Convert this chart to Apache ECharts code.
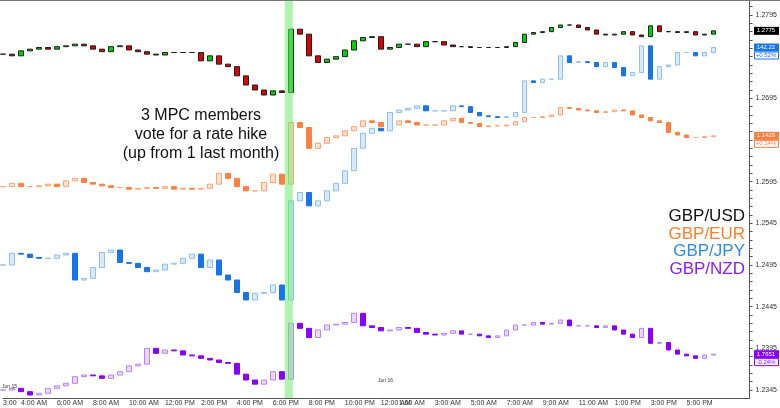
<!DOCTYPE html>
<html><head><meta charset="utf-8">
<script src="https://cdn.jsdelivr.net/npm/echarts@6/dist/echarts.min.js"></script>
<style>html,body{margin:0;padding:0;background:#fff}#c{width:780px;height:408px}</style>
</head><body><div id="c"></div>
<script>
// closes of 30-minute bars, plotted on the common price scale
const gbpusd = [1.2748,1.2746,1.2752,1.2754,1.2756,1.2754,1.2757,1.2758,1.2760,1.2758,
1.2754,1.2751,1.2757,1.2758,1.2753,1.2751,1.2748,1.2747,1.2750,1.2750,
1.2750,1.2750,1.2740,1.2746,1.2736,1.2733,1.2722,1.2711,1.2705,1.2699,
1.2704,1.2702,1.2778,1.2772,1.2746,1.2738,1.2742,1.2745,1.2753,1.2764,
1.2768,1.2769,1.2754,1.2756,1.2760,1.2760,1.2757,1.2763,1.2763,1.2759,
1.2757,1.2757,1.2756,1.2756,1.2756,1.2756,1.2757,1.2762,1.2772,1.2774,
1.2775,1.2780,1.2783,1.2783,1.2780,1.2777,1.2772,1.2771,1.2772,1.2775,
1.2771,1.2769,1.2782,1.2775,1.2775,1.2774,1.2775,1.2771,1.2772,1.2776];
const gbpeur = [1.2589,1.2593,1.2589,1.2589,1.2590,1.2592,1.2589,1.2596,1.2599,1.2594,
1.2592,1.2590,1.2588,1.2588,1.2586,1.2587,1.2588,1.2587,1.2589,1.2586,
1.2587,1.2586,1.2587,1.2592,1.2605,1.2599,1.2589,1.2584,1.2584,1.2594,
1.2604,1.2592,1.2666,1.2660,1.2635,1.2641,1.2648,1.2650,1.2656,1.2661,
1.2668,1.2666,1.2661,1.2663,1.2668,1.2666,1.2663,1.2663,1.2663,1.2668,
1.2671,1.2666,1.2665,1.2661,1.2662,1.2662,1.2663,1.2667,1.2672,1.2672,
1.2673,1.2675,1.2684,1.2683,1.2681,1.2680,1.2678,1.2679,1.2681,1.2680,
1.2675,1.2672,1.2668,1.2666,1.2654,1.2651,1.2648,1.2648,1.2649,1.2650];
const gbpjpy = [1.2495,1.2509,1.2508,1.2504,1.2503,1.2503,1.2507,1.2509,1.2477,1.2479,
1.2492,1.2510,1.2513,1.2498,1.2497,1.2492,1.2487,1.2489,1.2496,1.2497,
1.2503,1.2508,1.2492,1.2501,1.2483,1.2477,1.2462,1.2453,1.2461,1.2462,
1.2471,1.2453,1.2572,1.2582,1.2566,1.2572,1.2584,1.2593,1.2608,1.2635,
1.2653,1.2659,1.2656,1.2678,1.2681,1.2683,1.2686,1.2680,1.2680,1.2680,
1.2686,1.2685,1.2678,1.2674,1.2673,1.2672,1.2673,1.2678,1.2716,1.2714,
1.2718,1.2718,1.2746,1.2738,1.2739,1.2738,1.2733,1.2738,1.2732,1.2722,
1.2726,1.2758,1.2718,1.2733,1.2735,1.2750,1.2750,1.2746,1.2750,1.2756];
const gbpnzd = [1.2345,1.2347,1.2343,1.2339,1.2341,1.2347,1.2350,1.2353,1.2361,1.2363,
1.2362,1.2359,1.2363,1.2367,1.2374,1.2376,1.2395,1.2389,1.2393,1.2392,
1.2387,1.2386,1.2383,1.2381,1.2378,1.2377,1.2364,1.2357,1.2352,1.2357,
1.2367,1.2358,1.2425,1.2419,1.2408,1.2417,1.2423,1.2424,1.2426,1.2437,
1.2422,1.2420,1.2416,1.2417,1.2420,1.2419,1.2414,1.2412,1.2411,1.2413,
1.2416,1.2412,1.2412,1.2410,1.2408,1.2410,1.2417,1.2423,1.2423,1.2426,
1.2424,1.2425,1.2429,1.2422,1.2422,1.2422,1.2420,1.2422,1.2417,1.2412,
1.2408,1.2419,1.2401,1.2402,1.2393,1.2388,1.2386,1.2383,1.2387,1.2388];
const yTickLabels = [1.2345,1.2395,1.2445,1.2495,1.2545,1.2595,1.2645,1.2695,1.2745,1.2795];
const xTickLabels = {0:'3:00',2:'4:00 AM',6:'6:00 AM',10:'8:00 AM',14:'10:00 AM',18:'12:00 PM',22:'2:00 PM',26:'4:00 PM',30:'6:00 PM',34:'8:00 PM',38:'10:00 PM',42:'12:00 AM',44:'1:00 AM',48:'3:00 AM',52:'5:00 AM',56:'7:00 AM',60:'9:00 AM',64:'11:00 AM',68:'1:00 PM',72:'3:00 PM',76:'5:00 PM'};
const seriesNames = ['GBP/USD','GBP/EUR','GBP/JPY','GBP/NZD'];
const lastPrices = ['1.2775','1.1429','142.22','1.7651'];
const changes = [null,'+0.14%','+0.52%','-0.24%'];
const eventBar = 32;

const N = 84;
const cats = Array.from({length:N},(_,i)=>String(i));
function ohlc(c){return c.map((v,i)=>{const o=i?c[i-1]:v;return [o,v,Math.min(o,v),Math.max(o,v)];});}
const styles = [
 {color:'#00d400',color0:'#e00000',borderColor:'#1f1f1f',borderColor0:'#1f1f1f'},
 {color:'#ffe2d0',color0:'#ff7f3f',borderColor:'#ffa070',borderColor0:'#ff7f3f'},
 {color:'#d9eafc',color0:'#1874e8',borderColor:'#8cc0f5',borderColor0:'#1874e8'},
 {color:'#ead6ff',color0:'#8a00ff',borderColor:'#b884f7',borderColor0:'#8a00ff'}];
const tagColors=['#000000','#ff7f3f','#1874e8','#8a00ff'];
const legendColors=['#111111','#ff7f27','#2b8cf0','#8a1cff'];
const datas=[gbpusd,gbpeur,gbpjpy,gbpnzd];
const chart = echarts.init(document.getElementById('c'));
const ticks=[];for(let k=12335;k<=12811;k++){if(k%10===5)ticks.push(k/10000);}
chart.setOption({
 animation:false,
 grid:{left:1,right:27,top:1,bottom:10},
 xAxis:{type:'category',data:cats,boundaryGap:false,
  axisLine:{lineStyle:{color:'#555'}},axisTick:{show:false},
  axisLabel:{interval:0,fontSize:7,color:'#333',fontFamily:'Liberation Sans',align:'left',margin:2,
   formatter:(v,i)=>xTickLabels[i]||''},splitLine:{show:false}},
 yAxis:{type:'value',position:'right',min:1.23354,max:1.28118,
  axisLine:{show:true,lineStyle:{color:'#555'}},
  axisTick:{show:true,customValues:ticks,length:3,lineStyle:{color:'#555'}},
  axisLabel:{customValues:yTickLabels,fontSize:7,color:'#333',fontFamily:'Liberation Sans',margin:6,formatter:v=>v.toFixed(4)},
  splitLine:{show:false}},
 series:datas.map((d,k)=>({type:'candlestick',name:seriesNames[k],data:ohlc(d),barWidth:5,itemStyle:Object.assign({borderWidth:1},styles[k])}))
});
const g=[];
const x0=chart.convertToPixel({xAxisIndex:0},eventBar);
g.push({type:'rect',shape:{x:x0-6,y:1,width:8,height:397},style:{fill:'rgba(110,235,110,0.55)'},z:100});
g.push({type:'line',shape:{x1:0,y1:0.5,x2:780,y2:0.5},style:{stroke:'#777',lineWidth:1},z:100});
g.push({type:'text',x:201,y:106,style:{text:'3 MPC members\nvote for a rate hike\n(up from 1 last month)',font:'16px Liberation Sans',fill:'#111',align:'center',lineHeight:19},z:100});
seriesNames.forEach((n,k)=>g.push({type:'text',x:745,y:208+k*17.5,style:{text:n,font:'17px Liberation Sans',fill:legendColors[k],align:'right'},z:100}));
datas.forEach((d,k)=>{
 const y=chart.convertToPixel({yAxisIndex:0},d[d.length-1]);
 g.push({type:'rect',shape:{x:754,y:y-4,width:25,height:8},style:{fill:tagColors[k]},z:100});
 g.push({type:'text',x:766,y:y,style:{text:lastPrices[k],font:'6px Liberation Sans',fill:'#fff',align:'center',verticalAlign:'middle'},z:101});
 if(changes[k]){
  g.push({type:'rect',shape:{x:754.5,y:y+4.5,width:24,height:7},style:{fill:'#fff',stroke:tagColors[k],lineWidth:1},z:100});
  g.push({type:'text',x:766,y:y+8,style:{text:changes[k],font:'6px Liberation Sans',fill:tagColors[k],align:'center',verticalAlign:'middle'},z:101});
 }
});
g.push({type:'text',x:2,y:384,style:{text:'Jun 15',font:'5px Liberation Sans',fill:'#333'},z:100});
g.push({type:'text',x:378,y:378,style:{text:'Jun 16',font:'5px Liberation Sans',fill:'#333'},z:100});
chart.setOption({graphic:g});
</script></body></html>
